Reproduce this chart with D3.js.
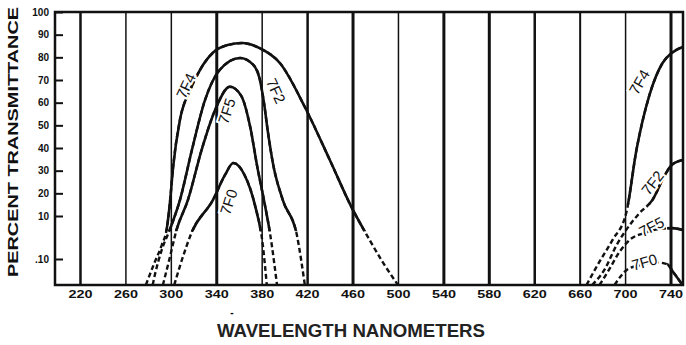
<!DOCTYPE html>
<html>
<head>
<meta charset="utf-8">
<script src="https://cdn.jsdelivr.net/npm/d3@7"></script>
<style>
  body { margin: 0; background: #fff; }
  svg { display: block; font-family: "Liberation Sans", Arial, sans-serif; }
  .tick text { font-weight: bold; fill: #111; }
</style>
</head>
<body>
<svg id="chart" width="686" height="345"></svg>
<script>
// wavelength ticks (nm) and percent transmittance ticks
const xTicks = [220, 260, 300, 340, 380, 420, 460, 500, 540, 580, 620, 660, 700, 740];
const yTicks = [100, 90, 80, 70, 60, 50, 40, 30, 20, 10, 0.1];
const yTickLabels = ["100", "90", "80", "70", "60", "50", "40", "30", "20", "10", ".10"];

// curves: [nm, % transmittance]
// UV pass band
const f7F4 = [[278, 0], [286, 0.09], [292, 3.3], [296.5, 7.2], [299, 14.9], [302, 31.6], [308, 52.4],
  [317, 65.6], [325.6, 74.4], [337, 82], [350, 85.4], [363, 86.3], [378, 84.1], [396, 77.5],
  [418, 58.1], [440, 34.7], [459, 14], [475, 4.5], [487, 0.085], [500, 0]];
const f7F2 = [[284, 0], [286, 0.04], [292, 2.2], [299, 6.8], [308, 17], [318.5, 39], [330, 61],
  [343, 74.4], [361, 79.7], [372, 77], [378, 71], [382, 60], [385.5, 47], [390, 33], [398.6, 17],
  [411, 5.6], [418, 0]];
const f7F5 = [[293, 0], [299, 0.33], [305, 6.8], [315, 17], [327, 39], [339, 56.8], [352, 67],
  [362, 63], [370, 49], [376, 32], [382, 17], [387.6, 5.6], [393.5, 0]];
const f7F0 = [[303, 0], [310, 0.1], [318.5, 6.3], [337, 17], [347.6, 28], [355, 33.4], [365, 28],
  [374, 14.9], [381, 3.3], [384.5, 0]];
// red leak
const r7F4 = [[666, 0], [677.5, 0.09], [689, 4.5], [701, 11.3], [710, 39.1], [721.5, 63.4],
  [733, 77.5], [741, 81.9], [750.6, 84.6]];
const r7F2 = [[671, 0], [682, 0.06], [692.5, 3.3], [701, 6.8], [712.7, 11.3], [724, 17], [735, 28],
  [741, 32.5], [750.6, 34.7]];
const r7F5 = [[677.5, 0], [686, 0.06], [695, 1.7], [704, 4.5], [717, 6.1], [730, 7], [742, 7.2], [750.6, 6.8]];
const r7F0 = [[690.7, 0], [702, 0.06], [712.7, 0.076], [725.9, 0.088], [737, 0.08], [742.6, 0.048], [750.6, 0]];

const curves = [f7F4, f7F2, f7F5, f7F0, r7F4, r7F2, r7F5, r7F0];

// curve labels: text, nm, % (anchor in data units)
const labelText = ["7F4", "7F5", "7F2", "7F0", "7F4", "7F2", "7F5", "7F0"];
const labelNm = [313.3, 349.3, 392.5, 351, 712.7, 724.2, 723.3, 717];
const labelPct = [67.4, 56.3, 65.2, 16.2, 69.1, 24.6, 7.5, 0.088];
const labelAngle = [-65, -72, 65, -72, -60, -52, -27, -16];

// grid line weights as they look in the scan
const gridWeights = [2.5, 1.5, 1.5, 3, 1.5, 2.5, 3, 1.5, 3, 3, 2.5, 2, 1.5, 3];

const margin = { top: 12, right: 3, bottom: 60, left: 55 };
const svg = d3.select("#chart");
const width = +svg.attr("width") - margin.left - margin.right;
const height = +svg.attr("height") - margin.top - margin.bottom;

const x = d3.scaleLinear().domain([198, 751]).range([0, width]);
// percent axis: linear 10..100, compressed below 10
const y = d3.scaleLinear().domain([0, 0.1, 10, 100]).range([height, height - 26, height - 69, 0]);

const g = svg.append("g").attr("transform", `translate(${margin.left},${margin.top})`);

const defs = svg.append("defs");
defs.append("clipPath").attr("id", "plotClip")
  .append("rect").attr("width", width).attr("height", height);
const solid = defs.append("clipPath").attr("id", "solidClip");
solid.append("rect").attr("x", 0).attr("y", 0).attr("width", x(600)).attr("height", y(6.5));
solid.append("rect").attr("x", x(600)).attr("y", 0).attr("width", width - x(600)).attr("height", y(15));
solid.append("rect").attr("x", x(737)).attr("y", 0).attr("width", width - x(737)).attr("height", height);

// x axis with full-height grid lines
const xAxis = d3.axisBottom(x).tickValues(xTicks).tickSize(-height).tickPadding(5);
const xg = g.append("g").attr("transform", `translate(0,${height})`).call(xAxis);
xg.select(".domain").remove();
xg.selectAll(".tick line").attr("stroke", "#111").attr("stroke-width", (d, i) => gridWeights[i]);
xg.selectAll(".tick text").attr("font-size", 11).attr("textLength", 24).attr("lengthAdjust", "spacingAndGlyphs");

// y axis, short ticks pointing into the plot
const yAxis = d3.axisLeft(y).tickValues(yTicks).tickFormat((d, i) => yTickLabels[i]).tickSize(-8).tickPadding(6);
const yg = g.append("g").call(yAxis);
yg.select(".domain").remove();
yg.selectAll(".tick line").attr("stroke", "#111").attr("stroke-width", 2);
yg.selectAll(".tick text").attr("font-size", 10);

// frame
g.append("rect").attr("width", width).attr("height", height)
  .attr("fill", "none").attr("stroke", "#111").attr("stroke-width", 2.5);

const line = d3.line().x(d => x(d[0])).y(d => y(d[1])).curve(d3.curveMonotoneX);

const plot = g.append("g").attr("clip-path", "url(#plotClip)");
curves.forEach(c => {
  plot.append("path").attr("d", line(c)).attr("fill", "none")
    .attr("stroke", "#111").attr("stroke-width", 2.4).attr("stroke-dasharray", "5,3");
});
const solidG = plot.append("g").attr("clip-path", "url(#solidClip)");
curves.forEach(c => {
  solidG.append("path").attr("d", line(c)).attr("fill", "none")
    .attr("stroke", "#111").attr("stroke-width", 2.6);
});

// curve labels, with a white halo so the curve breaks behind them
labelText.forEach((t, i) => {
  g.append("text")
    .attr("transform", `translate(${x(labelNm[i])},${y(labelPct[i])}) rotate(${labelAngle[i]})`)
    .attr("text-anchor", "middle").attr("dy", "0.35em")
    .attr("font-size", 15).attr("fill", "#111")
    .attr("stroke", "#fff").attr("stroke-width", 4).attr("paint-order", "stroke")
    .text(t);
});

// axis titles
svg.append("text")
  .attr("transform", "translate(18,142) rotate(-90)")
  .attr("text-anchor", "middle").attr("font-size", 15).attr("font-weight", "bold")
  .attr("textLength", 270).attr("lengthAdjust", "spacingAndGlyphs")
  .attr("fill", "#111").text("PERCENT TRANSMITTANCE");

svg.append("text").attr("x", 232).attr("y", 316).attr("text-anchor", "middle")
  .attr("font-size", 10).attr("font-weight", "bold").text("-");

svg.append("text").attr("x", 351).attr("y", 337).attr("text-anchor", "middle")
  .attr("font-size", 18).attr("font-weight", "bold").attr("fill", "#222")
  .attr("textLength", 268).attr("lengthAdjust", "spacingAndGlyphs")
  .text("WAVELENGTH NANOMETERS");
</script>
</body>
</html>
